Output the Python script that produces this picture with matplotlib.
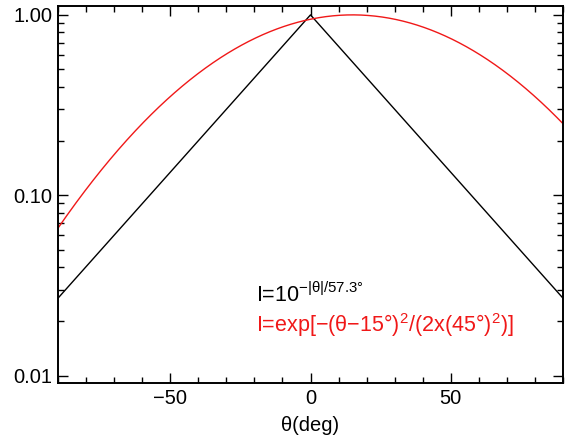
import numpy as np
import matplotlib
matplotlib.use("Agg")
import matplotlib.pyplot as plt
from matplotlib.ticker import FixedLocator, NullFormatter

plt.rcParams['font.family'] = ['Liberation Sans', 'DejaVu Sans']
plt.rcParams['mathtext.fontset'] = 'custom'
plt.rcParams['mathtext.rm'] = 'Liberation Sans'
plt.rcParams['mathtext.it'] = 'Liberation Sans'
plt.rcParams['mathtext.sf'] = 'Liberation Sans'

# exponential fall-off: I = 10^(-|theta| / scale)
decay_scale = 57.3
# gaussian profile: I = exp(-(theta - center)^2 / (2 width^2))
gauss_center = 15.0
gauss_width = 45.0

theta_range = [-90, 90]
y_range = [0.0091, 1.12]
x_major = [-50, 0, 50]
x_labels = ['\u221250', '0', '50']
y_major = [0.01, 0.1, 1.0]
y_labels = ['0.01', '0.10', '1.00']

theta = np.linspace(theta_range[0], theta_range[1], 721)
i_exp = 10 ** (-np.abs(theta) / decay_scale)
i_gauss = np.exp(-(theta - gauss_center) ** 2 / (2 * gauss_width ** 2))

red = '#f01818'

fig = plt.figure(figsize=(5.66, 4.37), dpi=100)
ax = fig.add_axes([58 / 566, 1 - 383 / 437, (563 - 58) / 566, (383 - 6) / 437])

ax.plot(theta, i_exp, color='black', lw=1.0)
ax.plot(theta, i_gauss, color=red, lw=1.0)

ax.set_yscale('log')
ax.set_xlim(*theta_range)
ax.set_ylim(*y_range)

ax.set_xticks(x_major)
ax.set_xticklabels(x_labels)
ax.xaxis.set_minor_locator(FixedLocator(np.arange(-90, 91, 10)))
ax.set_yticks(y_major)
ax.set_yticklabels(y_labels)
minor_y = [m * 10.0 ** e for e in (-3, -2, -1, 0) for m in range(2, 10)]
ax.yaxis.set_minor_locator(FixedLocator(minor_y))
ax.yaxis.set_minor_formatter(NullFormatter())

ax.tick_params(which='both', direction='in', top=True, right=True,
               labelsize=14.5, width=1.0, colors='black')
ax.tick_params(which='major', length=7.2, pad=4)
ax.tick_params(which='minor', length=4.2)
for sp in ax.spines.values():
    sp.set_linewidth(1.4)

ax.set_xlabel('\u03b8(deg)', fontsize=14.5, labelpad=6)

ax.text(0.393, 0.2157, 'I=10$^{\u2212|\u03b8|/57.3\u00b0}$', transform=ax.transAxes,
        fontsize=15.5, color='black', va='baseline')
ax.text(0.393, 0.136, 'I=exp[\u2212(\u03b8\u221215\u00b0)$^2$/(2x(45\u00b0)$^2$)]',
        transform=ax.transAxes, fontsize=15.5, color=red, va='baseline')

fig.savefig('out.png', dpi=100)
